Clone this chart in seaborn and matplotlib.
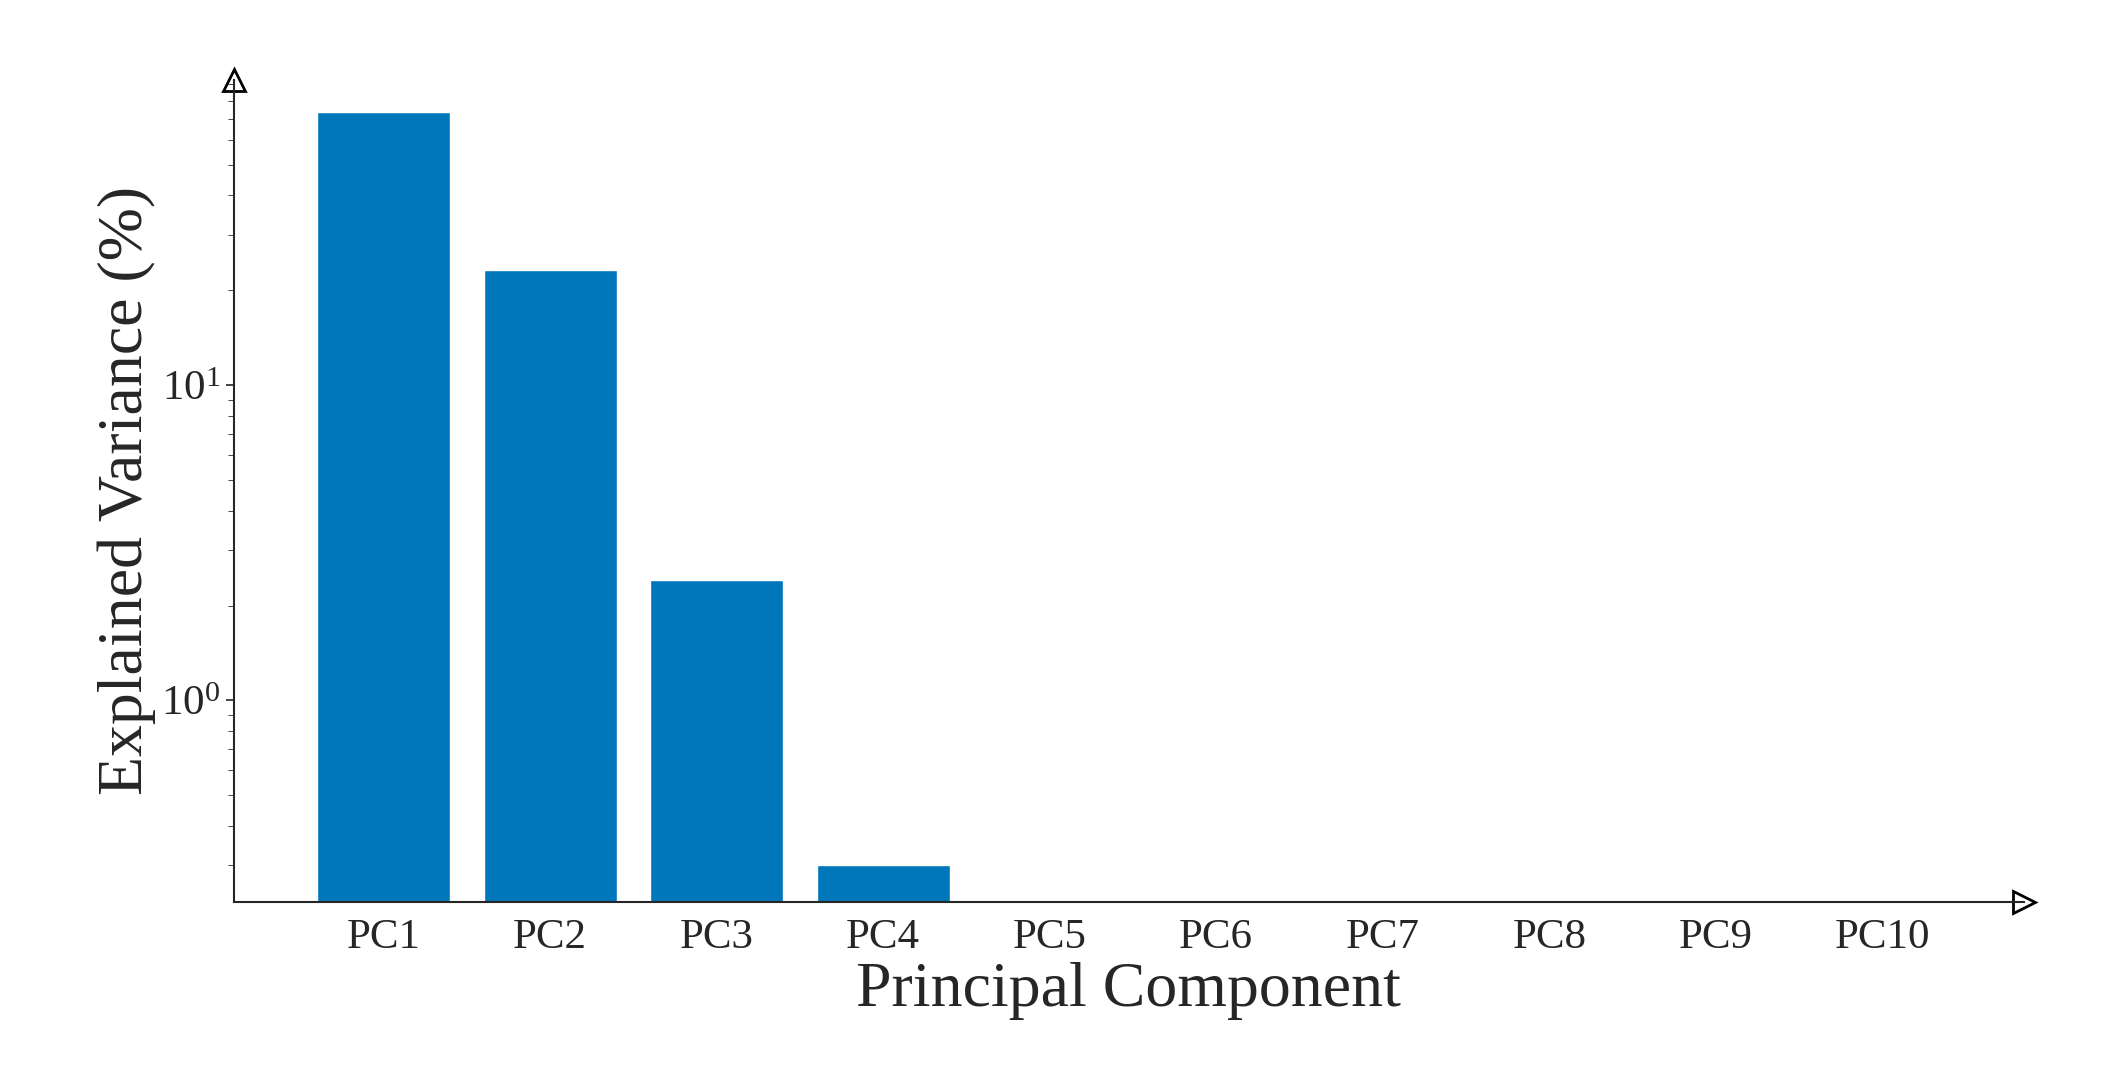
import matplotlib
matplotlib.use("Agg")
import matplotlib.pyplot as plt
import seaborn as sns
import pandas as pd

components = ["PC1", "PC2", "PC3", "PC4", "PC5", "PC6", "PC7", "PC8", "PC9", "PC10"]
explained = [73.6, 23.2, 2.41, 0.30, 0.01, 0.005, 0.003, 0.002, 0.001, 0.001]

sns.set_style("ticks")
plt.rcParams["font.family"] = ["Liberation Serif", "DejaVu Serif"]

df = pd.DataFrame({"pc": components, "var": explained})
fig = plt.figure(figsize=(21.06, 10.81), dpi=100)
ax = fig.add_axes([0.111, 0.166, 0.85, 0.76])
sns.barplot(data=df, x="pc", y="var", color="#0077BB", saturation=1, width=0.8, ax=ax)
ax.set_yscale("log")
ax.set_ylim(0.23, 93)
ax.set_xlim(-0.9, 9.85)

sns.despine(ax=ax)
for s in ["left", "bottom"]:
    ax.spines[s].set_linewidth(1.5)
# arrow heads at axis ends
ax.plot(1, 0, ">", color="k", markersize=16, transform=ax.transAxes, clip_on=False, mfc="none", mew=2)
ax.plot(0, 1, "^", color="k", markersize=16, transform=ax.transAxes, clip_on=False, mfc="none", mew=2)

ax.set_xlabel("Principal Component", fontsize=46)
ax.set_ylabel("Explained Variance (%)", fontsize=46)
ax.tick_params(axis="both", labelsize=31, length=6, width=1.2)
ax.tick_params(axis="x", length=0, pad=12)
ax.tick_params(axis="y", which="minor", length=4)

plt.savefig("out.png", dpi=100)
